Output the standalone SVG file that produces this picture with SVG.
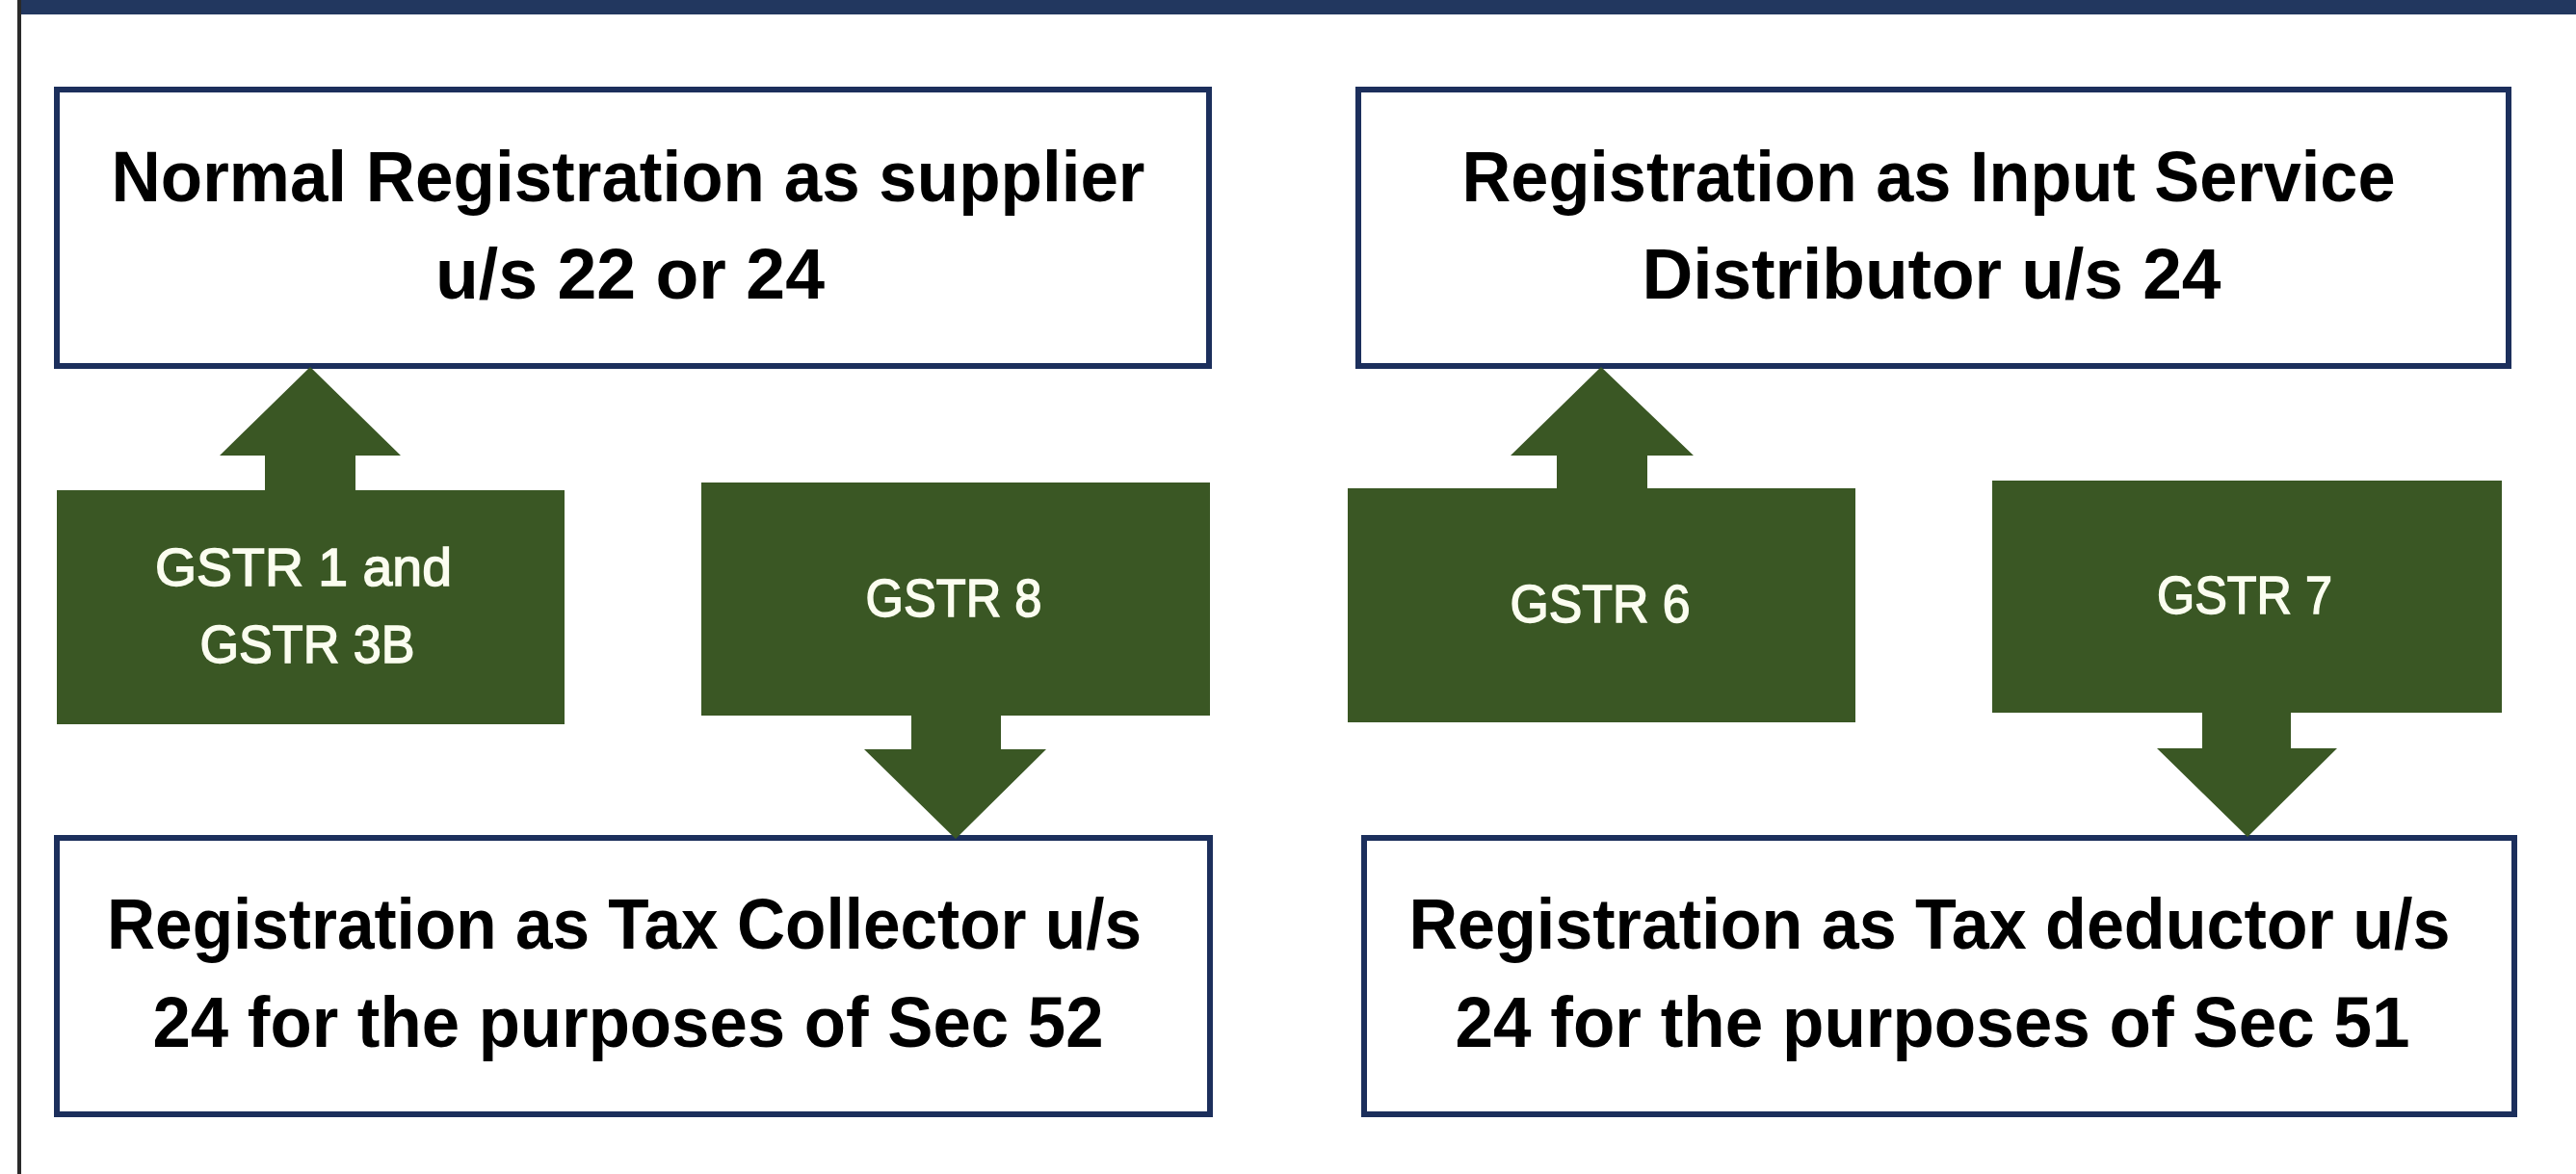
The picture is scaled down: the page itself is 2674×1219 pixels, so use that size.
<svg xmlns="http://www.w3.org/2000/svg" width="2674" height="1219" viewBox="0 0 2674 1219">
<style>
.reg{fill:#ffffff;stroke:#1c2f5c;stroke-width:6}
.gbox{fill:#3a5724}
.arrow{fill:#3a5724}
.t{font-family:"Liberation Sans",Arial,sans-serif;font-weight:bold;font-size:75px;fill:#000000;text-anchor:middle}
.g{font-family:"Liberation Sans",Arial,sans-serif;font-size:56px;fill:#fbfdf0;stroke:#fbfdf0;stroke-width:1.5;text-anchor:middle}
</style>
<rect x="0" y="0" width="2674" height="1219" fill="#ffffff"/>
<rect x="18" y="0" width="2656" height="15" fill="#22375f"/>
<rect x="18" y="0" width="4" height="1219" fill="#2a2a2a"/>

<g id="reg-normal">
<rect class="reg" x="59" y="93" width="1196" height="287"/>
<text class="t" x="652" y="209" textLength="1073" lengthAdjust="spacingAndGlyphs">Normal Registration as supplier</text>
<text class="t" x="654" y="310" textLength="404" lengthAdjust="spacingAndGlyphs">u/s 22 or 24</text>
</g>
<g id="reg-isd">
<rect class="reg" x="1410" y="93" width="1194" height="287"/>
<text class="t" x="2002" y="209" textLength="969" lengthAdjust="spacingAndGlyphs">Registration as Input Service</text>
<text class="t" x="2005" y="310" textLength="601" lengthAdjust="spacingAndGlyphs">Distributor u/s 24</text>
</g>
<g id="reg-collector">
<rect class="reg" x="59" y="870" width="1197" height="287"/>
<text class="t" x="648" y="985" textLength="1074" lengthAdjust="spacingAndGlyphs">Registration as Tax Collector u/s</text>
<text class="t" x="652" y="1087" textLength="987" lengthAdjust="spacingAndGlyphs">24 for the purposes of Sec 52</text>
</g>
<g id="reg-deductor">
<rect class="reg" x="1416" y="870" width="1194" height="287"/>
<text class="t" x="2003" y="985" textLength="1081" lengthAdjust="spacingAndGlyphs">Registration as Tax deductor u/s</text>
<text class="t" x="2006" y="1087" textLength="991" lengthAdjust="spacingAndGlyphs">24 for the purposes of Sec 51</text>
</g>

<g id="gstr1-3b">
<rect class="gbox" x="59" y="509" width="527" height="243"/>
<text class="g" x="315" y="608" textLength="308" lengthAdjust="spacingAndGlyphs">GSTR 1 and</text>
<text class="g" x="319" y="688" textLength="223" lengthAdjust="spacingAndGlyphs">GSTR 3B</text>
</g>
<g id="gstr8">
<rect class="gbox" x="728" y="501" width="528" height="242"/>
<text class="g" x="990" y="640" textLength="183" lengthAdjust="spacingAndGlyphs">GSTR 8</text>
</g>
<g id="gstr6">
<rect class="gbox" x="1399" y="507" width="527" height="243"/>
<text class="g" x="1661" y="646" textLength="187" lengthAdjust="spacingAndGlyphs">GSTR 6</text>
</g>
<g id="gstr7">
<rect class="gbox" x="2068" y="499" width="529" height="241"/>
<text class="g" x="2330" y="637" textLength="182" lengthAdjust="spacingAndGlyphs">GSTR 7</text>
</g>

<g id="connectors">
<polygon class="arrow" points="275,510 275,473 228,473 322,381 416,473 369,473 369,510"/>
<polygon class="arrow" points="946,742 946,778 897,778 992,871 1086,778 1039,778 1039,742"/>
<polygon class="arrow" points="1616,508 1616,473 1568,473 1662,381 1758,473 1710,473 1710,508"/>
<polygon class="arrow" points="2286,739 2286,777 2239,777 2333,869 2426,777 2378,777 2378,739"/>
</g>
</svg>
